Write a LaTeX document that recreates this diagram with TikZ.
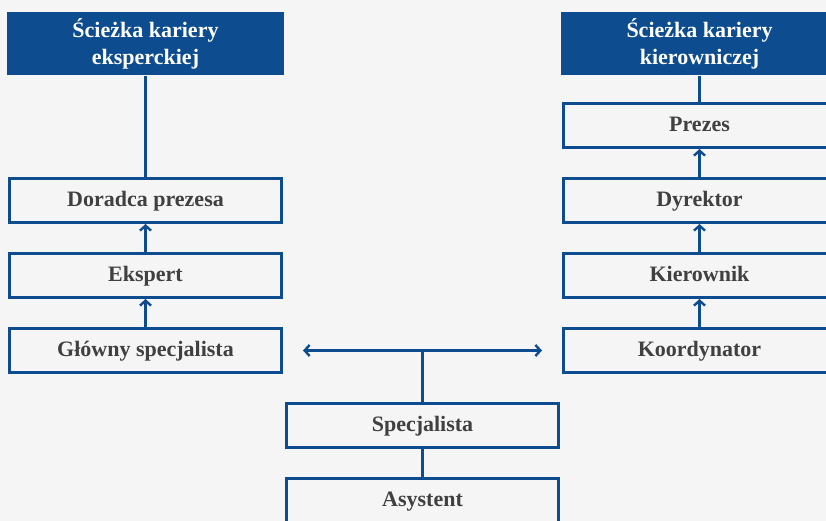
\documentclass[tikz,border=0pt]{standalone}
\usepackage{fontspec}
\setmainfont{Liberation Serif}
\usetikzlibrary{arrows.meta,calc}
\definecolor{bg}{HTML}{F5F5F5}
\definecolor{navy}{HTML}{0D4D8F}
\definecolor{txt}{HTML}{404040}
\tikzset{
  x=1pt,y=-1pt,
  stage/.style={draw=navy,line width=3pt,fill=bg,minimum width=272pt,minimum height=44pt,inner sep=0pt,
    text height=16pt,text depth=4pt,
    font=\fontsize{22}{24}\selectfont\bfseries,text=txt},
  header/.style={fill=navy,minimum width=277pt,minimum height=63pt,inner sep=0pt,align=center,
    font=\fontsize{22}{27}\selectfont\bfseries,text=white},
  link/.style={draw=navy,line width=3pt},
  tip/.tip={Straight Barb[length=5pt,width=11pt,line width=2.4pt]},
  up/.style={link,-tip},
  both/.style={link,tip-tip},
}
\begin{document}
\begin{tikzpicture}
\fill[bg] (0,0) rectangle (826,521);
\useasboundingbox (0,0) rectangle (826,521);
\clip (0,0) rectangle (826,521);
% left column
\node[header] (hl) at (145.5,44) {Ścieżka kariery\\eksperckiej};
\node[stage] (dor) at (145.5,200.5) {Doradca prezesa};
\node[stage] (eks) at (145.5,275.5) {Ekspert};
\node[stage] (glo) at (145.5,350.5) {Główny specjalista};
% right column
\node[header] (hr) at (699.5,44) {Ścieżka kariery\\kierowniczej};
\node[stage] (pre) at (699.5,125.5) {Prezes};
\node[stage] (dyr) at (699.5,200.5) {Dyrektor};
\node[stage] (kie) at (699.5,275.5) {Kierownik};
\node[stage] (koo) at (699.5,350.5) {Koordynator};
% centre
\node[stage] (spe) at (422.5,425.5) {Specjalista};
\node[stage] (asy) at (422.5,500.5) {Asystent};
% connectors
\draw[link] (hl.south) -- (dor.north);
\draw[up] (eks.north) -- (dor.south);
\draw[up] (glo.north) -- (eks.south);
\draw[link] (hr.south) -- (pre.north);
\draw[up] (dyr.north) -- (pre.south);
\draw[up] (kie.north) -- (dyr.south);
\draw[up] (koo.north) -- (kie.south);
\draw[link] (spe.south) -- (asy.north);
\coordinate (j) at (spe.north |- glo.east);
\coordinate (aL) at ($(glo.east)+(20,0)$);
\coordinate (aR) at ($(koo.west)+(-20,0)$);
\draw[link] (spe.north) -- (j);
\draw[both] (aL) -- (aR);
\end{tikzpicture}
\end{document}
